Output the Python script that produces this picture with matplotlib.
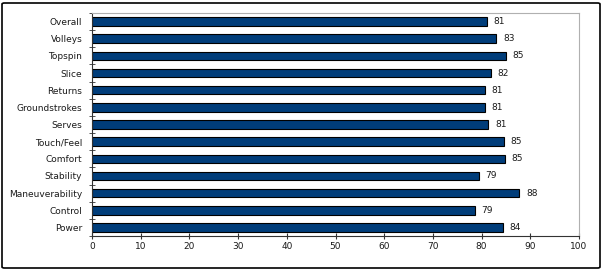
import matplotlib.pyplot as plt
import numpy as np
from matplotlib.patches import FancyBboxPatch

# data
categories = ['Overall', 'Volleys', 'Topspin', 'Slice', 'Returns', 'Groundstrokes',
              'Serves', 'Touch/Feel', 'Comfort', 'Stability', 'Maneuverability',
              'Control', 'Power']
scores = [81.1, 83.0, 85.0, 81.9, 80.7, 80.7, 81.4, 84.6, 84.8, 79.4, 87.7, 78.6, 84.4]
x_ticks = [0, 10, 20, 30, 40, 50, 60, 70, 80, 90, 100]

plt.rcParams['font.family'] = ['DejaVu Sans']
fs = 6.5
txt_col = '#1a1a1a'

fig = plt.figure(figsize=(6.03, 2.7), dpi=100)
ax = fig.add_axes([92 / 603, 1 - 236 / 270, (579 - 92) / 603, (236 - 13) / 270])

# outer frame
fig.patches.append(FancyBboxPatch((2 / 603, 2 / 270), 598 / 603, 265 / 270,
                                  boxstyle='round,pad=0,rounding_size=0.004',
                                  transform=fig.transFigure, fill=False,
                                  edgecolor='black', linewidth=1.2))

y = np.arange(len(categories))[::-1]
ax.barh(y, scores, height=0.5, color='#003d7a', edgecolor='black', linewidth=0.8)

for yi, v in zip(y, scores):
    ax.text(v + 1.4, yi, f'{v:.0f}', va='center', ha='left', fontsize=fs, color=txt_col)

ax.set_xlim(0, 100)
ax.set_ylim(-0.5, len(categories) - 0.5)
ax.set_xticks(x_ticks)
ax.tick_params(axis='x', direction='inout', length=5, labelsize=fs, pad=1.5,
               labelcolor=txt_col, color='#333333')
ax.set_yticks(y)
ax.set_yticklabels(categories, fontsize=fs, color=txt_col)
ax.tick_params(axis='y', length=0, pad=7)
ax.set_yticks(np.arange(len(categories) + 1) - 0.5, minor=True)
ax.tick_params(axis='y', which='minor', direction='inout', length=5, color='#333333')

for side in ['top', 'right']:
    ax.spines[side].set_color('#b0b0b0')
for side in ['left', 'bottom']:
    ax.spines[side].set_color('#333333')

fig.savefig('out.png', dpi=100)
